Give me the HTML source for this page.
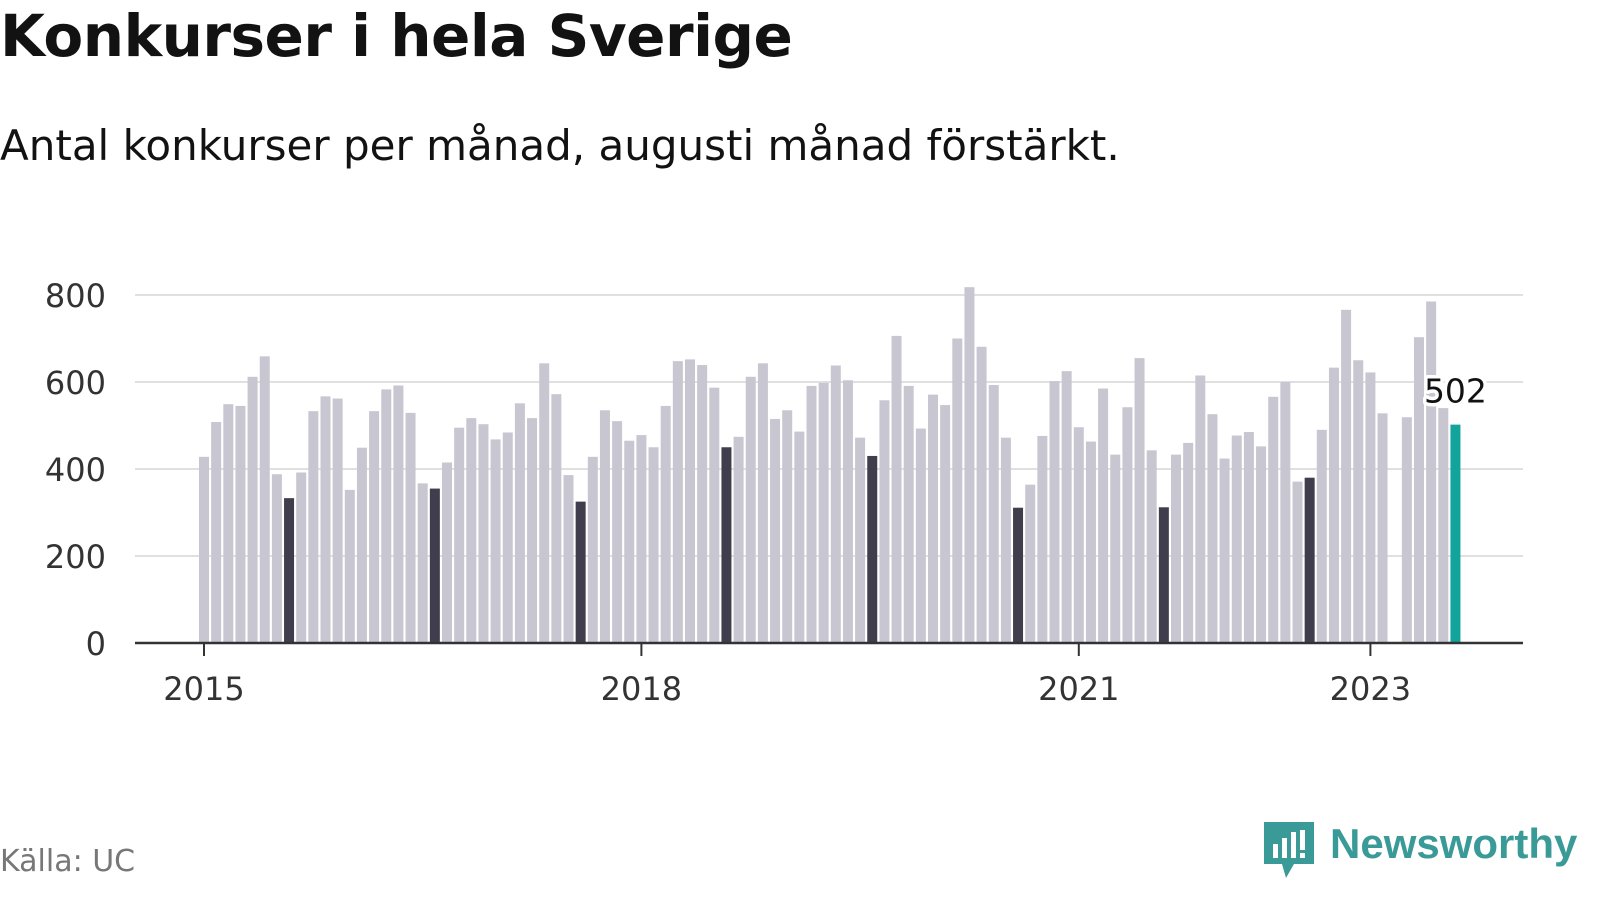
<!DOCTYPE html>
<html><head><meta charset="utf-8">
<style>
body{margin:0;background:#fff;width:1600px;height:900px;overflow:hidden;font-family:"DejaVu Sans","Liberation Sans",sans-serif;}
#title{position:absolute;left:0;top:2px;font-size:58px;font-weight:bold;color:#121212;letter-spacing:-0.5px;}
#sub{position:absolute;left:0;top:121px;font-size:42px;color:#121212;}
#src{position:absolute;left:0;top:844px;font-size:30px;color:#777;}
#logo{position:absolute;left:1264px;top:822px;}
#logotext{position:absolute;left:1330px;top:820px;font-size:42px;color:#3a9a97;font-weight:bold;font-family:"Liberation Sans",sans-serif;}
</style></head><body>
<div id="title">Konkurser i hela Sverige</div>
<div id="sub">Antal konkurser per månad, augusti månad förstärkt.</div>
<svg id="chart" width="1600" height="900" style="position:absolute;left:0;top:0"></svg>
<div id="src">Källa: UC</div>
<svg id="logo" width="50" height="56" viewBox="0 0 50 56">
<path d="M0 0H50V42H30L22 56L18 42H0Z" fill="#3a9a97"/>
<rect x="9" y="22" width="5" height="14" fill="#fff"/><rect x="18" y="16" width="5" height="20" fill="#fff"/><rect x="27" y="10" width="5" height="26" fill="#fff"/><rect x="36" y="8" width="5" height="20" fill="#fff"/><rect x="36" y="31" width="5" height="5" fill="#fff"/>
</svg>
<div id="logotext">Newsworthy</div>
<script>
const values=[428,508,549,545,612,659,388,333,392,533,567,562,
352,449,533,583,592,529,367,355,415,495,517,503,
468,484,551,517,643,572,386,325,428,535,510,465,
478,450,545,648,652,639,587,450,474,612,643,515,
535,486,591,598,638,604,472,430,558,706,591,493,
571,547,700,818,681,593,472,311,364,476,602,625,
496,463,585,433,542,655,443,312,433,460,615,526,
424,477,485,452,566,600,371,380,490,633,766,650,
622,528,0,519,703,785,540,502];
const yTicks=[0,200,400,600,800];
const xTickLabels=["2015","2018","2021","2023"];
const xTickMonths=[0,36,72,96];
const NS="http://www.w3.org/2000/svg";
const svg=document.getElementById('chart');
const y=v=>643-v*0.435;
const x=i=>204+i*12.15;
function mk(t,a){const e=document.createElementNS(NS,t);for(const k in a)e.setAttribute(k,a[k]);svg.appendChild(e);return e;}
yTicks.forEach(v=>{
 if(v>0){const g=mk('line',{x1:135,x2:1523,y1:y(v),y2:y(v),stroke:'#e0e0e0','stroke-width':2});
 
 }
 const t=mk('text',{x:106,y:y(v)+12,'text-anchor':'end','font-size':32,fill:'#333','font-family':'DejaVu Sans, Liberation Sans, sans-serif'});
 t.textContent=v;
 
 
});
values.forEach((v,i)=>{
 if(!v)return;
 const last=i===values.length-1;
 const aug=i%12===7;
 const r=mk('rect',{x:x(i)-5,y:y(v),width:10,height:643-y(v),fill:last?'#12a39c':aug?'#403e4c':'#c8c7d1'});
 
 
});
const ax=mk('line',{x1:135,x2:1523,y1:643,y2:643,stroke:'#333','stroke-width':2.5});


xTickLabels.forEach((l,k)=>{
 const xx=x(xTickMonths[k]);
 const tk=mk('line',{x1:xx,x2:xx,y1:644,y2:656,stroke:'#333','stroke-width':2});
 
 
 const t=mk('text',{x:xx,y:700,'text-anchor':'middle','font-size':32,fill:'#333','font-family':'DejaVu Sans, Liberation Sans, sans-serif'});
 t.textContent=l;
 
 
});
const li=values.length-1;
const lab=mk('text',{x:x(li),y:y(values[li])-22,'text-anchor':'middle','font-size':33,fill:'#121212',stroke:'#fff','stroke-width':7,'paint-order':'stroke','stroke-linejoin':'round','font-family':'DejaVu Sans, Liberation Sans, sans-serif'});
lab.textContent=values[li];


</script>
</body></html>
